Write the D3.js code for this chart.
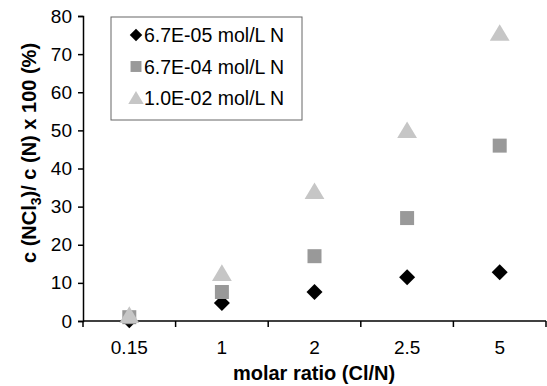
<!DOCTYPE html>
<html>
<head>
<meta charset="utf-8">
<script src="https://cdn.jsdelivr.net/npm/d3@7"></script>
<style>
body { margin: 0; background: #fff; }
text { font-family: Arial, "Liberation Sans", sans-serif; }
</style>
</head>
<body>
<script>
// data
var categories = ["0.15", "1", "2", "2.5", "5"]
var seriesNames = ["6.7E-05 mol/L N", "6.7E-04 mol/L N", "1.0E-02 mol/L N"]
var lowN = [0.2, 4.7, 7.6, 11.5, 12.8]
var midN = [1.0, 7.6, 17.0, 27.0, 46.0]
var highN = [1.5, 12.5, 34.0, 50.0, 75.5]
var yTicks = [0, 10, 20, 30, 40, 50, 60, 70, 80]

function shapePath(kind, r) {
	if (kind == 'diamond') return 'M0,' + (-r) + 'L' + r + ',0L0,' + r + 'L' + (-r) + ',0Z'
	if (kind == 'square') return 'M' + (-r) + ',' + (-r) + 'h' + 2 * r + 'v' + 2 * r + 'h' + (-2 * r) + 'Z'
	return 'M0,' + (-r) + 'L' + (r * 1.1) + ',' + (r * 0.85) + 'L' + (-r * 1.1) + ',' + (r * 0.85) + 'Z'
}

function plot_it() {
	var width = 547, height = 386
	var left = 83, right = 546, top = 16, bottom = 321

	var svg = d3.select('body').append('svg').attr('width', width).attr('height', height)

	var x = d3.scaleBand().domain(categories).range([left, right])
	var y = d3.scaleLinear().domain([0, 80]).range([bottom, top])

	// y axis
	var ya = svg.append('g').attr('transform', 'translate(' + left + ',0)')
		.call(d3.axisLeft(y).tickValues(yTicks).tickSize(5).tickPadding(6))
	ya.selectAll('text').style('font-size', '19px').attr('fill', '#000')
	ya.select('.domain').attr('stroke', '#000').attr('stroke-width', 1.5)
	ya.selectAll('line').attr('stroke', '#000').attr('stroke-width', 1.5)

	// x axis, ticks between categories
	var xa = svg.append('g').attr('transform', 'translate(0,' + bottom + ')')
	xa.append('line').attr('x1', left).attr('x2', right).attr('stroke', '#000').attr('stroke-width', 1.5)
	var edges = categories.map(function(c) { return x(c) }).concat([right])
	xa.selectAll('.tk').data(edges).enter().append('line')
		.attr('x1', function(d) { return d }).attr('x2', function(d) { return d })
		.attr('y1', 0).attr('y2', 6).attr('stroke', '#000').attr('stroke-width', 1.5)
	xa.selectAll('.lb').data(categories).enter().append('text')
		.attr('x', function(d) { return x(d) + x.bandwidth() / 2 }).attr('y', 33)
		.attr('text-anchor', 'middle').style('font-size', '19px').text(function(d) { return d })

	// axis titles
	svg.append('text').attr('x', 314).attr('y', 380).attr('text-anchor', 'middle')
		.style('font-size', '20px').style('font-weight', 'bold').text('molar ratio (Cl/N)')
	var yt = svg.append('text').attr('transform', 'translate(36,153) rotate(-90)').attr('text-anchor', 'middle')
		.style('font-size', '20px').style('font-weight', 'bold')
	yt.append('tspan').text('c (NCl')
	yt.append('tspan').attr('dy', 5).style('font-size', '14px').text('3')
	yt.append('tspan').attr('dy', -5).text(')/ c (N) x 100 (%)')

	var series = [
		{ name: seriesNames[0], values: lowN, shape: 'diamond', r: 8, color: '#000000' },
		{ name: seriesNames[1], values: midN, shape: 'square', r: 7, color: '#999999' },
		{ name: seriesNames[2], values: highN, shape: 'triangle', r: 9, color: '#c6c6c6' }
	]

	// points, in series order (last series on top)
	series.forEach(function(s) {
		svg.append('g').selectAll('path').data(s.values).enter().append('path')
			.attr('d', shapePath(s.shape, s.r))
			.attr('transform', function(d, i) {
				return 'translate(' + (x(categories[i]) + x.bandwidth() / 2) + ',' + y(d) + ')'
			})
			.attr('fill', s.color)
	})

	// legend
	var lg = svg.append('g')
	lg.append('rect').attr('x', 111).attr('y', 17).attr('width', 191).attr('height', 103)
		.attr('fill', '#fff').attr('stroke', '#666').attr('stroke-width', 1)
	series.forEach(function(s, i) {
		var cy = 35 + i * 31.5
		lg.append('path').attr('d', shapePath(s.shape, s.r * 0.78))
			.attr('transform', 'translate(136,' + cy + ')')
			.attr('fill', s.color)
		lg.append('text').attr('x', 144).attr('y', cy + 7).style('font-size', '19.5px').text(s.name)
	})
}
plot_it()
</script>
</body>
</html>
